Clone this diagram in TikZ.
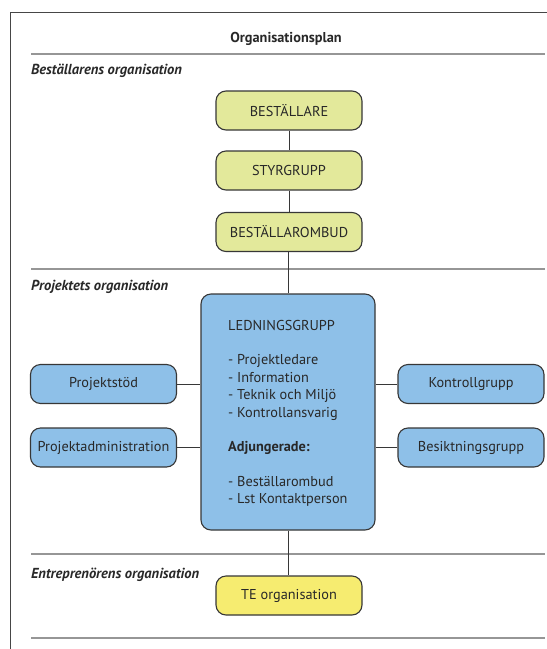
\documentclass[tikz,border=0pt]{standalone}
\usepackage{fontspec}
\setmainfont{PT Sans}
\definecolor{frameC}{RGB}{70,70,70}
\definecolor{borderC}{RGB}{55,55,55}
\definecolor{sepC}{RGB}{150,150,150}
\definecolor{textC}{RGB}{40,40,40}
\definecolor{yfill}{RGB}{227,233,155}
\definecolor{tefill}{RGB}{246,236,112}
\definecolor{bfill}{RGB}{142,192,232}
\begin{document}
\begin{tikzpicture}[x=1pt,y=-1pt,text=textC,
  boxline/.style={draw=borderC,line width=1.1pt,rounded corners=10pt},
  ybox/.style={boxline,fill=yfill,minimum width=146pt,minimum height=39pt,inner sep=0pt,font=\fontsize{14.3}{17}\selectfont},
  tebox/.style={ybox,fill=tefill},
  bbox/.style={boxline,fill=bfill,minimum width=146pt,minimum height=39pt,inner sep=0pt,font=\fontsize{14.3}{17}\selectfont},
  sect/.style={anchor=west,inner sep=0pt,font=\fontsize{14.5}{17}\selectfont\bfseries\itshape},
  sep/.style={draw=sepC,line width=1.4pt},
  conn/.style={draw=borderC,line width=1pt}]
\useasboundingbox (0,0) rectangle (547,649);
\fill[white] (0,0) rectangle (547,649);
% frame
\draw[frameC,line width=1pt] (547,12.5) -- (10,12.5) -- (10,649);
% title
\node[inner sep=0pt,font=\fontsize{14.3}{17}\selectfont\bfseries] (title) at (286,39) {Organisationsplan};
\draw[sep] (31,54) -- (545,54);
\draw[sep] (31,269) -- (545,269);
\draw[sep] (31,554) -- (545,554);
\draw[sep] (31,638) -- (545,638);
% section labels
\node[sect] (s1) at (31,71) {Beställarens organisation};
\node[sect] (s2) at (31,287) {Projektets organisation};
\node[sect] (s3) at (31,575) {Entreprenörens organisation};
% boxes
\node[ybox] (best) at (289,110.5) {BESTÄLLARE};
\node[ybox] (styr) at (289,170.5) {STYRGRUPP};
\node[ybox] (ombud) at (289,232) {BESTÄLLAROMBUD};
\node[bbox,minimum width=174pt,minimum height=236pt] (led) at (288,412) {};
\node[anchor=north west,inner sep=0pt,align=left,font=\fontsize{14.3}{17.5}\selectfont] (ledtext) at (228,320)
 {LEDNINGSGRUPP\\[17pt]
  - Projektledare\\
  - Information\\
  - Teknik och Miljö\\
  - Kontrollansvarig\\[17pt]
  \textbf{Adjungerade:}\\[17pt]
  - Beställarombud\\
  - Lst Kontaktperson};
\node[bbox] (stod) at (103.5,384) {Projektstöd};
\node[bbox] (adm) at (103.5,447.5) {Projektadministration};
\node[bbox] (kontr) at (471,384) {Kontrollgrupp};
\node[bbox] (besikt) at (471,447.5) {Besiktningsgrupp};
\node[tebox] (te) at (289,595.5) {TE organisation};
% connectors
\draw[conn] (best) -- (styr);
\draw[conn] (styr) -- (ombud);
\draw[conn] (ombud.south -| led.north) -- (led.north);
\draw[conn] (led.south) -- (te.north -| led.south);
\draw[conn] (stod.east) -- (stod.east -| led.west);
\draw[conn] (adm.east) -- (adm.east -| led.west);
\draw[conn] (kontr.west) -- (kontr.west -| led.east);
\draw[conn] (besikt.west) -- (besikt.west -| led.east);
\end{tikzpicture}
\end{document}
